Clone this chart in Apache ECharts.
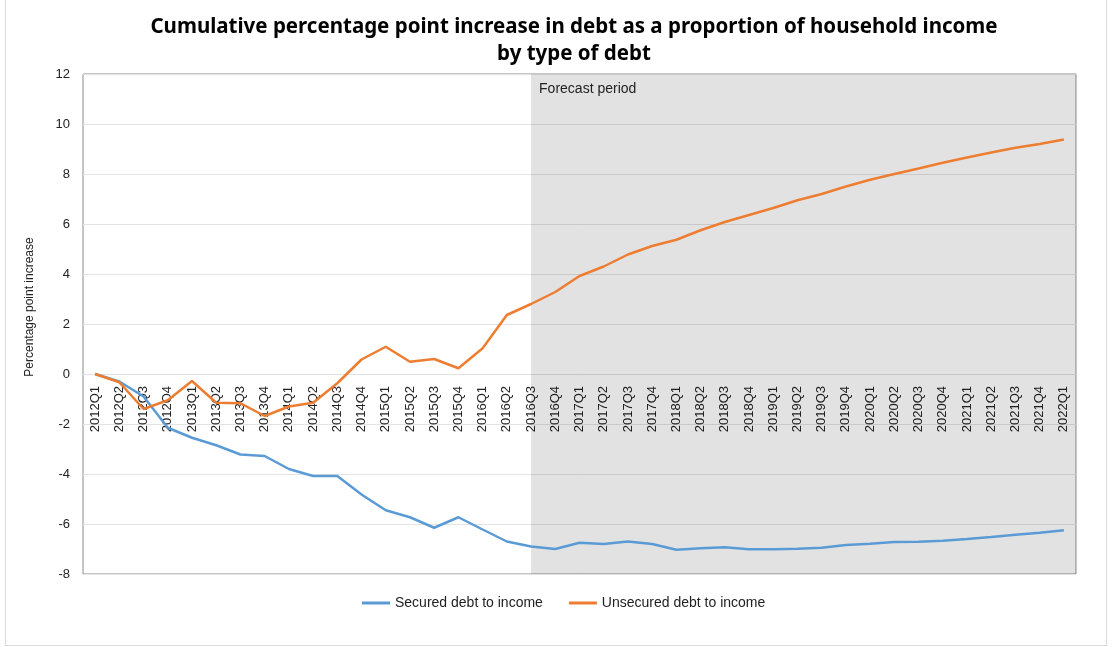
<!DOCTYPE html>
<html>
<head>
<meta charset="utf-8">
<title>Debt to income by type</title>
<script src="https://cdn.jsdelivr.net/npm/echarts@6/dist/echarts.min.js"></script>
<style>
	html, body { margin: 0; padding: 0; background: #fff; }
	#chart { width: 1112px; height: 647px; }
	.frame {
		position: absolute; left: 5px; top: -1px;
		width: 1100px; height: 645px;
		border: 1px solid #d9d9d9; pointer-events: none;
	}
</style>
</head>
<body>
<div id="chart"></div>
<div class="frame"></div>
<script>
	const quarters = [
		'2012Q1', '2012Q2', '2012Q3', '2012Q4',
		'2013Q1', '2013Q2', '2013Q3', '2013Q4',
		'2014Q1', '2014Q2', '2014Q3', '2014Q4',
		'2015Q1', '2015Q2', '2015Q3', '2015Q4',
		'2016Q1', '2016Q2', '2016Q3', '2016Q4',
		'2017Q1', '2017Q2', '2017Q3', '2017Q4',
		'2018Q1', '2018Q2', '2018Q3', '2018Q4',
		'2019Q1', '2019Q2', '2019Q3', '2019Q4',
		'2020Q1', '2020Q2', '2020Q3', '2020Q4',
		'2021Q1', '2021Q2', '2021Q3', '2021Q4',
		'2022Q1'
	]

	const secured = [
		0, -0.3, -0.9, -2.15,
		-2.55, -2.85, -3.22, -3.28,
		-3.8, -4.08, -4.08, -4.82,
		-5.45, -5.73, -6.15, -5.73,
		-6.22, -6.7, -6.9, -7.0,
		-6.75, -6.8, -6.7, -6.8,
		-7.03, -6.97, -6.93, -7.01,
		-7.01, -6.99, -6.95, -6.84,
		-6.79, -6.72, -6.71, -6.67,
		-6.6, -6.52, -6.43, -6.35,
		-6.25
	]

	const unsecured = [
		0, -0.33, -1.4, -1.05,
		-0.28, -1.15, -1.17, -1.68,
		-1.3, -1.15, -0.37, 0.58,
		1.09, 0.49, 0.6, 0.23,
		1.03, 2.36, 2.8, 3.28,
		3.92, 4.3, 4.78, 5.12,
		5.37, 5.75, 6.08, 6.36,
		6.64, 6.95, 7.2, 7.5,
		7.77, 8.0, 8.22, 8.45,
		8.66, 8.86, 9.05, 9.2,
		9.38
	]

	const forecastStart = '2016Q3'
	const yTicks = { min: -8, max: 12, interval: 2 }

	const font = 'Liberation Sans'

	const chart = echarts.init(document.getElementById('chart'), null, { renderer: 'canvas' })

	chart.setOption({
		animation: false,
		title: {
			text: 'Cumulative percentage point increase in debt as a proportion of household income\nby type of debt',
			left: 569,
			top: 9,
			textAlign: 'center',
			textStyle: {
				fontFamily: 'Noto Sans',
				fontSize: 20.5,
				fontWeight: 'bold',
				color: '#000',
				lineHeight: 27
			}
		},
		grid: {
			left: 83,
			right: 36,
			top: 74,
			bottom: 73,
			show: true,
			borderColor: '#8c8c8c',
			borderWidth: 1
		},
		legend: {
			left: 357,
			top: 591,
			icon: 'rect',
			itemWidth: 28,
			itemHeight: 3,
			itemGap: 26,
			textStyle: { fontFamily: font, fontSize: 14, color: '#222' },
			data: ['Secured debt to income', 'Unsecured debt to income']
		},
		xAxis: {
			type: 'category',
			data: quarters,
			boundaryGap: true,
			axisLine: { onZero: true, lineStyle: { color: '#e0e0e0' } },
			axisTick: { show: false },
			axisLabel: {
				rotate: 90,
				interval: 0,
				// labels hang just under the zero line, as in the source chart
				margin: -188,
				fontFamily: font,
				fontSize: 13,
				color: '#222'
			},
			splitLine: { show: false }
		},
		yAxis: {
			type: 'value',
			min: yTicks.min,
			max: yTicks.max,
			interval: yTicks.interval,
			name: 'Percentage point increase',
			nameLocation: 'middle',
			nameGap: 47,
			nameTextStyle: { fontFamily: font, fontSize: 12, color: '#222', padding: [0, 0, 0, 34] },
			axisLine: { show: false },
			axisTick: { show: false },
			axisLabel: { fontFamily: font, fontSize: 13, color: '#222', margin: 13 },
			splitLine: { lineStyle: { color: '#e3e3e3' } }
		},
		series: [{
			name: 'Secured debt to income',
			type: 'line',
			data: secured,
			symbol: 'none',
			color: '#5b9bd5',
			lineStyle: { width: 2.5 },
			z: 3,
			markArea: {
				silent: true,
				itemStyle: { color: 'rgba(0, 0, 0, 0.115)' },
				label: {
					show: true,
					position: 'insideTopLeft',
					distance: 8,
					fontFamily: font,
					fontSize: 14,
					color: '#222'
				},
				data: [[{ xAxis: forecastStart, name: 'Forecast period' }, {}]]
			}
		}, {
			name: 'Unsecured debt to income',
			type: 'line',
			data: unsecured,
			symbol: 'none',
			color: '#ed7d31',
			lineStyle: { width: 2.5 },
			z: 4
		}]
	})

	window.addEventListener('resize', () => {
		chart.resize()
	})
</script>
</body>
</html>
